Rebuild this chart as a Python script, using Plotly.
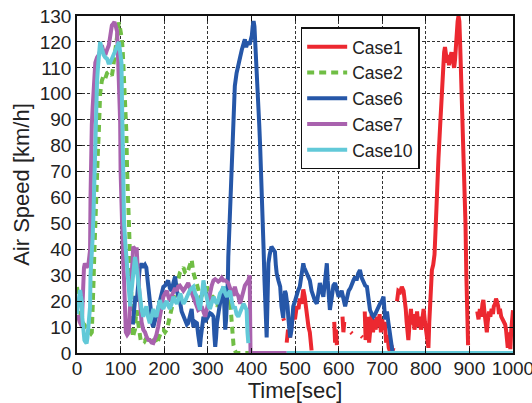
import plotly.graph_objects as go

N = None

case1_t = [473, 475, N,
           481, 484, 488, 492, 496, 500, 504, 508, 511, 515, 519, 522, 525, 527, 531, 534, 536, 538, N,
           590, 592, 594, 596, N,
           609, 611, 613, N,
           628, 631, N,
           652, 655, N,
           660, 662, 665, 668, 670, 673, 676, 679, 682, 685, 688, 691, 694, 697, 700, 703, 706, 709, 712, 715, 718, 721, 724, 726, N,
           734, 737, 741, 745, 749, 752, 754, 756, 758, 760, 763, 766, 768, 771, 774, 777, 780, 783, 786, 789, 792, 795, 798, 801, 804, 806,
           808, 810, 812, 814, 817, 820, 823, 825, 829, 833, 836, 840, 842, 844, 847, 849, 851, 853, 856, 859, 862, 865, 867, 869, 871, 873,
           875, 877, 879, 881, 883, 885, 887, 889, 891, 893, 895, 897, N,
           918, 921, 924, 927, 930, 932, 935, 937, 940, 942, 945, 948, 951, 954, 956, 959, 961, 963, 966, 968, 970, 973, 976, 979, 982, 984,
           986, 988, 990, 992, 994, 996, 998, 1000]
case1_v = [13.4, 12.5, N,
           4, 9, 6, 12, 15, 13, 18, 17, 21, 19, 24.5, 22, 17, 14, 10, 8, 4, 1, N,
           12, 4, 9, 3, N,
           14, 8, 12, N,
           8, 7.5, N,
           6.5, 6, N,
           16, 5, 10, 14, 4, 12, 15, 8, 13, 9, 14, 10, 15, 8, 13, 9, 12, 4, 7, 2, 0.5, 3, 1, 2, N,
           20, 24, 23.5, 25.5, 24, 21, 17, 12, 8, 5, 12, 17, 11, 15, 9, 13, 16, 10, 14, 9, 15, 17, 12, 7, 4, 2,
           12, 21, 28, 32, 34, 38, 50, 62, 75, 88, 100, 112, 116, 118, 114, 112, 115, 111, 114, 116, 113, 110, 113, 119, 124, 128,
           130, 128, 118, 108, 98, 86, 75, 65, 50, 30, 12, 3, N,
           16, 13, 17, 14, 19, 20.5, 15, 11, 8, 12, 16, 14, 17, 15, 18, 19, 21, 20, 18, 15, 17, 14, 13, 12, 11, 9,
           4, 2, 8, 3, 1.5, 9, 15, 16.5]

case2_t = [0, 3, 6, 9, 12, 16, 20, 24, 28, 32, 34, 36, 38, 40, 42, 45, 48, 50, 53, 57, 61, 65, 69, 73, 77, 80, 82, 84, 88, 92, 96,
           99, 103, 105, 107, 109, 111, 113, 115, 117, 120, 122, 124, 126, 128, 131, 133, 135, 137, 140, 143, 146, 150, 155, 160, 164,
           168, 172, 176, 179, 182, 184, 188, 192, 195, 198, 202, 206, 210, 213, 217, 221, 225, 229, 232, 236, 240, 244, 248, 252, 255,
           259, 263, 267, 271, 275, 279, 282, 286, 290, 294, 298, 302, 305, 309, 313, 317, 321, 325, 329, 333, 337, 341, 345, 349, 351,
           353, 355, 357, 359, 362, 365, 370, 380, 390, 395]
case2_v = [25.5, 21, 17, 14, 12, 11, 10, 9.5, 8.5, 7.5, 8, 15, 28, 40, 52, 65, 78, 85, 100, 105, 107, 106, 108, 108.5, 107.5, 107, 109,
           112, 118, 124, 127.5, 125, 121, 116, 110, 102, 93, 86, 70, 60, 48, 40, 25, 10, 6, 8, 9, 14, 16.5, 12, 8, 5, 5.5, 4.5, 6, 6.3,
           5.5, 4.5, 5, 5, 4, 3.5, 6, 8, 9, 9, 8, 9, 12, 14, 16, 19, 23, 26, 29, 31, 32, 33, 31, 30.5, 32,
           34.5, 36, 31, 28, 26.5, 24, 21.5, 22, 23, 24, 25.5, 24, 23, 22, 21.5, 20, 18, 19, 21, 20, 22, 21, 19, 21, 20,
           16, 11, 6, 3, 1, 0, 0, 0, 0, 0]

case6_t = [128, 131, 134, 137, 140, 144, 148, 152, 156, 159, 162, 164, 167, 169, 171, 173, 175, 178, 182, 186, 190, 194, 198, 202,
           206, 209, 213, 217, 221, 225, 229, 233, 237, 240, 244, 248, 252, 255, 259, 263, 265, 267, 271, 275, 278, 280, 282, 284, 286,
           290, 294, 298, 302, 305, 309, 313, 315, 317, 319, 321, 325, 328, 332, 336, 338, 340, 342, 344, 346, 347, 349, 352, 355, 358,
           360, 362, 366, 370, 374, 378, 381, 385, 388, 392, 396, 399, 401, 403, 405, 407, 409, 411, 413, 416, 418, 420, 422, 424, 426,
           428, 430, 432, 435, 437, 439, 442, 446, 450, 454, 456, 458, 462, 466, 469, 471, 473, 475, 477, 479, 481, 483, 485, 487, 489,
           492, 494, 496, 500, 504, 507, 511, 515, 517, 519, 521, 524, 527, 531, 534, 538, 542, 546, 550, 554, 557, 561, 565, 569, 573,
           575, 577, 580, 584, 588, 592, 596, 600, 604, 607, 611, 615, 619, 623, 627, 630, 634, 638, 641, 645, 649, 653, 657, 661, 665,
           668, 672, 676, 680, 684, 688, 691, 695, 699, 703, 705, 707, 709, 711, 714, 716, 718, 720, 722, 724]
case6_v = [11, 15, 22, 20, 28, 33, 34.5, 33, 34, 33, 28, 24, 19, 16, 14, 11, 10, 12, 14, 17, 20, 23, 25.5, 26,
           27, 28, 25, 24, 27, 29.5, 24, 22, 19, 16, 14, 12, 11, 11.5, 14, 17, 13, 10, 12, 11.5, 7, 4, 2.4, 6, 9,
           14, 12, 13, 14, 15.4, 15, 14, 7, 2.4, 6, 11.5, 16, 20, 23, 25.6, 18, 9, 13, 19, 28, 37, 45, 58, 69, 80,
           88, 103, 108, 112, 114, 117, 119, 121, 118, 120, 119, 121, 122.5, 126, 128, 126, 120, 114, 107, 99, 88, 80, 72, 62, 52,
           40, 28, 15, 6, 20, 34.6, 38, 41, 40, 39, 34, 30.7, 28, 25.6, 18, 14, 13.5, 19, 24, 23, 21, 18, 13, 8, 6,
           9, 14, 18, 20, 23, 24, 25.6, 30, 33, 34.6, 33, 32, 30.7, 29, 28, 24, 21.7, 20, 19, 23, 27, 24, 21.7, 28, 34.6,
           28, 21.7, 16.6, 21, 26, 27, 24, 21.7, 23, 24, 21, 18, 21, 24, 25, 26.7, 28, 29.4, 28, 30.7, 32, 29, 27, 26, 25.6,
           21, 16.6, 15, 14, 15, 16.6, 18, 19, 20, 21.7, 17, 13, 14, 16, 12, 9, 6, 3, 1, 0]

case7_t = [0, 3, 6, 9, 11, 13, 14, 16, 18, 22, 26, 28, 30, 31, 32, 34, 36, 38, 40, 42, 46, 50, 54, 57, 61, 65, 69, 73, 76, 80, 83,
           86, 89, 92, 94, 96, 98, 99, 100, 102, 104, 106, 108, 110, 112, 115, 119, 122, 125, 127, 129, 133, 137, 139, 141, 144, 148,
           152, 156, 160, 164, 167, 171, 175, 178, 182, 186, 190, 194, 198, 202, 206, 209, 213, 217, 221, 225, 229, 232, 236, 240, 244,
           248, 251, 255, 259, 263, 267, 271, 275, 278, 282, 286, 290, 294, 298, 302, 305, 309, 313, 317, 321, 324, 328, 332, 336, 340,
           344, 347, 351, 355, 359, 362, 366, 370, 374, 378, 382, 385, 389, 393, 396, 397, 398, 420, 450, 481]
case7_v = [14, 14, 12, 11, 11.5, 20, 28, 33, 34.6, 33, 34, 37, 39.7, 60, 75, 88, 95, 100, 106, 112, 114, 115, 117, 118.7, 116, 115,
           117, 118.7, 122, 126.4, 127, 127.7, 126, 124, 115, 106, 95, 89, 70, 55, 42, 35, 28, 20, 8, 7, 8, 20, 32, 37, 41, 40, 40,
           33, 27, 18, 12, 9, 8, 6, 5, 5, 4, 3.8, 5, 7, 10, 14, 18, 21.7, 23, 24, 22, 20, 22, 24, 25, 24, 25.6, 26, 25, 24,
           25, 26, 27, 25, 23, 22, 20, 18, 16.6, 17, 18, 16, 14, 17, 21, 24, 26, 28, 28.5, 28, 27.5, 28, 29, 28, 28,
           27.5, 27, 25, 24, 22, 25.6, 23, 22, 19, 21, 24, 26, 27, 28, 30, 15, 0, 0, 0, 0]

case10_t = [0, 2, 5, 7, 9, 11, 12, 14, 17, 19, 22, 24, 26, 28, 30, 31, 34, 36, 38, 40, 42, 44, 46, 48, 50, 52, 53, 56, 59, 61, 65,
            69, 72, 76, 80, 84, 88, 92, 94, 96, 98, 100, 102, 103, 104, 106, 108, 111, 114, 118, 122, 125, 129, 131, 133, 136, 138,
            142, 145, 148, 152, 155, 159, 163, 167, 171, 175, 178, 182, 186, 190, 194, 198, 202, 206, 210, 213, 217, 221, 225, 229,
            233, 237, 240, 244, 248, 252, 255, 259, 263, 267, 271, 275, 278, 282, 286, 290, 294, 298, 302, 305, 309, 313, 317, 321,
            325, 328, 332, 336, 340, 344, 347, 351, 355, 359, 362, 366, 370, 374, 378, 382, 385, 387, 389, 391, 393, N, 481, 1000]
case10_v = [15, 18, 22, 24.3, 22, 20, 14, 7.6, 5, 4.4, 3.7, 6, 9, 14, 18, 30, 37, 45, 55, 70, 88, 96, 105, 110, 115, 119, 120, 118,
            116, 115, 114, 113.5, 112, 112, 113.5, 115, 116, 117.5, 119, 120, 117, 114, 112, 99, 85, 65, 50, 42, 35, 30.7, 18, 24,
            30.7, 34, 37, 34, 31, 25, 21.7, 17, 14, 16, 18, 14, 11.5, 14, 17, 15, 14, 17, 20.4, 18, 17, 19, 20, 18, 17, 19, 21.7,
            20, 19, 21, 23, 21, 19, 20, 21.7, 23, 24.3, 25, 25.6, 23, 21.7, 19, 16.6, 22, 28, 24, 20, 18, 17, 19, 21.7, 20, 19,
            21, 23, 24, 25.6, 23, 21.7, 23, 24, 20, 17, 18, 15, 14, 16, 18, 19, 18, 17, 16.6, 8, 3.8, N, 0, 0]

x_ticks = list(range(0, 1001, 100))
y_ticks = list(range(0, 131, 10))

series = [
    ("Case1", case1_t, case1_v, "#EC2830", "solid"),
    ("Case2", case2_t, case2_v, "#70BE45", "7px,5px"),
    ("Case6", case6_t, case6_v, "#2657A8", "solid"),
    ("Case7", case7_t, case7_v, "#A962AE", "solid"),
    ("Case10", case10_t, case10_v, "#62C9D8", "solid"),
]

fig = go.Figure()
for name, t, v, color, dash in series:
    fig.add_trace(go.Scatter(x=t, y=v, mode="lines", name=name, connectgaps=False,
                             line=dict(color=color, width=4, dash=dash)))

font_family = "Liberation Sans, Arial, sans-serif"
axis_common = dict(
    showline=True, linecolor="#111", linewidth=1.5, mirror="ticks",
    ticks="inside", ticklen=5, tickcolor="#111",
    showgrid=True, gridcolor="#333", gridwidth=1, griddash="3px,2px",
    zeroline=False, automargin=False, ticklabeloverflow="allow",
    tickfont=dict(size=19, color="#222", family=font_family),
)
fig.update_layout(
    width=532, height=403,
    margin=dict(l=77, r=19, t=16, b=50),
    paper_bgcolor="white", plot_bgcolor="white",
    font=dict(family=font_family, size=19, color="#222"),
    showlegend=True,
    legend=dict(x=0.513, y=0.966, xanchor="left", yanchor="top",
                bgcolor="white", bordercolor="#111", borderwidth=1.5,
                font=dict(size=17.5, color="#222", family=font_family),
                itemwidth=40, tracegroupgap=0),
    xaxis=dict(range=[0, 1000], tickvals=x_ticks, ticktext=[str(t) for t in x_ticks],
               ticklabelstandoff=-3,
               title=dict(text="Time[sec]", font=dict(size=22, color="#222"), standoff=0),
               **axis_common),
    yaxis=dict(range=[0, 130], tickvals=y_ticks, ticktext=[str(t) for t in y_ticks],
               title=dict(text="Air Speed [km/h]", font=dict(size=22, color="#222"), standoff=4),
               **axis_common),
)
fig.write_html("out.html", config={"displayModeBar": False},
               post_script="document.body.style.margin='0';")
